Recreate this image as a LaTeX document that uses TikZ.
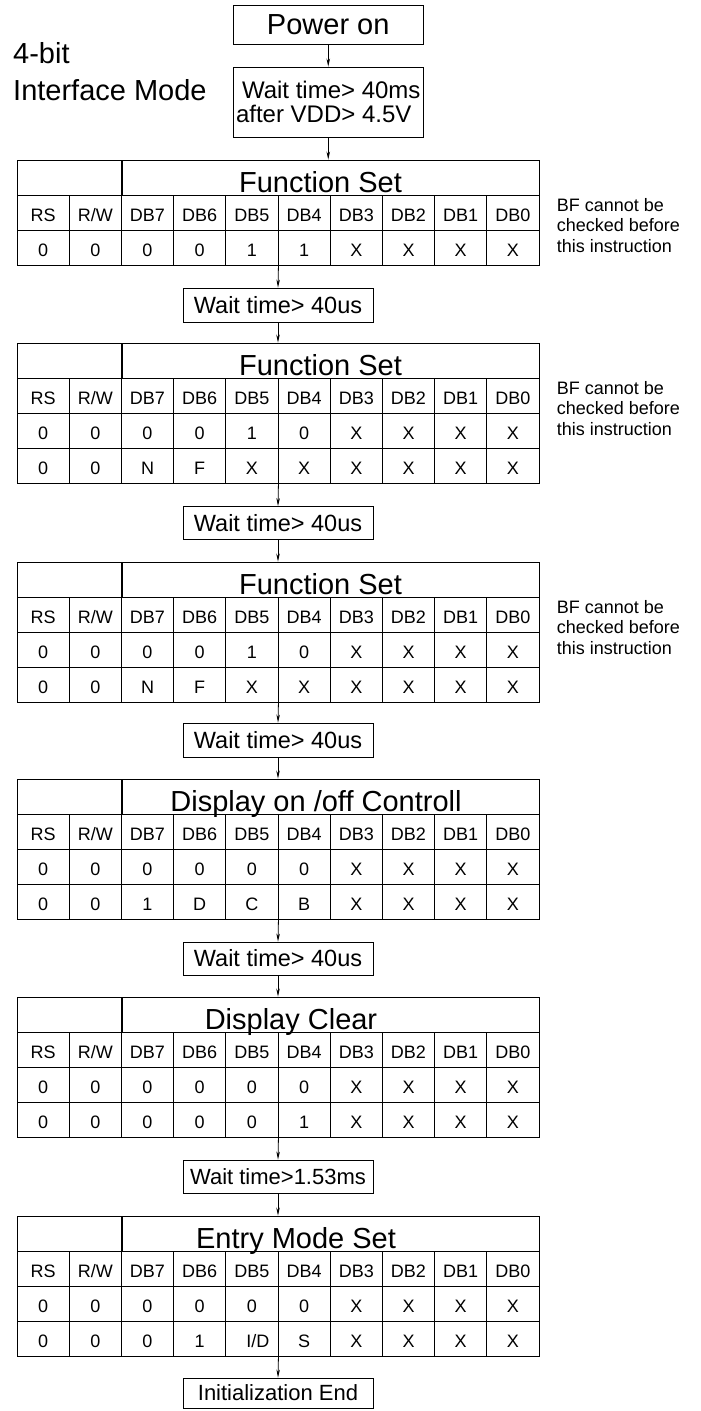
\documentclass[tikz,border=0pt]{standalone}
\usepackage{fontspec}
\setmainfont{Liberation Sans}
\usetikzlibrary{arrows.meta}
\tikzset{
  cellbox/.style={draw, line width=0.9pt, minimum width=52.2pt, minimum height=35pt, inner sep=0pt, text height=18pt, text depth=0pt, font=\fontsize{18}{20}\selectfont},
  titletext/.style={anchor=base, inner sep=0pt, font=\fontsize{29}{30}\selectfont},
  waitbox/.style={draw, line width=0.9pt, minimum width=190pt, minimum height=34pt, inner sep=0pt, font=\fontsize{23.5}{24}\selectfont},
  arr/.style={line width=0.8pt, -{Stealth[length=8pt,width=3.5pt]}},
  notetext/.style={align=left, anchor=base west, inner sep=0pt, font=\fontsize{18}{20.5}\selectfont},
  sidetext/.style={anchor=base west, inner sep=0pt, font=\fontsize{29}{30}\selectfont},
}
% #1 name, #2 top y, #3 title, #4 title centre x
\newcommand{\tabhead}[4]{%
  \node[cellbox, minimum width=104.4pt] (#1-blank) at (69.2, #2+17.5) {};
  \node[cellbox, minimum width=417.6pt] (#1-title) at (330.8, #2+17.5) {};
  \node[titletext] (#1-ttext) at (#4, #2+32) {#3};
  \foreach \lab [count=\i from 0] in {RS,R/W,DB7,DB6,DB5,DB4,DB3,DB2,DB1,DB0}
    \node[cellbox] (#1-h\i) at (43.1+52.2*\i, #2+52.5) {\lab};
}
% #1 name, #2 row index, #3 table top y, #4 list of cells
\newcommand{\tabrow}[4]{%
  \foreach \lab [count=\i from 0] in {#4}
    \node[cellbox] (#1-r#2c\i) at (43.1+52.2*\i, #3+52.5+35*#2) {\lab};
}
% base anchor of a multi-line node is the last line: 51 + 2*20.5
\newcommand{\bfnote}[2]{%
  \node[notetext] (#1) at (556.7, #2+92) {BF cannot be\\checked before\\this instruction};
}
\begin{document}
\begin{tikzpicture}[x=1pt, y=-1pt]
  \path[use as bounding box, fill=white] (0,0) rectangle (701,1411);

  \node[sidetext] (mode1) at (13,63) {4-bit};
  \node[sidetext] (mode2) at (13,100) {Interface Mode};

  \node[waitbox, minimum width=189.5pt, minimum height=39pt, font=\fontsize{29}{30}\selectfont] (pwr) at (328.25,24.5) {Power on};
  \node[waitbox, minimum width=189.5pt, minimum height=70pt, align=left, font=\fontsize{24}{24}\selectfont] (w1) at (328.25,102) {\hspace*{6pt}Wait time> 40ms\\after VDD> 4.5V};

  % table 1
  \tabhead{t1}{160}{Function Set}{320.5}
  \tabrow{t1}{1}{160}{0,0,0,0,1,1,X,X,X,X}
  \bfnote{n1}{160}

  \node[waitbox] (w2) at (278,305) {Wait time> 40us};

  % table 2
  \tabhead{t2}{343}{Function Set}{320.5}
  \tabrow{t2}{1}{343}{0,0,0,0,1,0,X,X,X,X}
  \tabrow{t2}{2}{343}{0,0,N,F,X,X,X,X,X,X}
  \bfnote{n2}{343}

  \node[waitbox, minimum height=33pt] (w3) at (278,523) {Wait time> 40us};

  % table 3
  \tabhead{t3}{562}{Function Set}{320.5}
  \tabrow{t3}{1}{562}{0,0,0,0,1,0,X,X,X,X}
  \tabrow{t3}{2}{562}{0,0,N,F,X,X,X,X,X,X}
  \bfnote{n3}{562}

  \node[waitbox] (w4) at (278,740) {Wait time> 40us};

  % table 4
  \tabhead{t4}{779}{Display on /off Controll}{316}
  \tabrow{t4}{1}{779}{0,0,0,0,0,0,X,X,X,X}
  \tabrow{t4}{2}{779}{0,0,1,D,C,B,X,X,X,X}

  \node[waitbox, minimum height=33pt] (w5) at (278,958.5) {Wait time> 40us};

  % table 5
  \tabhead{t5}{997}{Display Clear}{291}
  \tabrow{t5}{1}{997}{0,0,0,0,0,0,X,X,X,X}
  \tabrow{t5}{2}{997}{0,0,0,0,0,1,X,X,X,X}

  \node[waitbox, minimum height=33pt, font=\fontsize{22}{24}\selectfont] (w6) at (278,1176.5) {Wait time>1.53ms};

  % table 6
  \tabhead{t6}{1216}{Entry Mode Set}{296}
  \tabrow{t6}{1}{1216}{0,0,0,0,0,0,X,X,X,X}
  \tabrow{t6}{2}{1216}{0,0,0,1,{\hspace*{12pt}I/D},S,X,X,X,X}

  \node[waitbox, minimum height=30pt, font=\fontsize{22}{24}\selectfont] (initend) at (278,1393) {Initialization End};

  % connectors
  \draw[arr] (pwr.south) -- (w1.north);
  \draw[arr] (w1.south) -- (w1.south |- t1-title.north);
  \draw[arr] (t1-r1c4.south east) -- (w2.north);
  \draw[arr] (w2.south) -- (w2.south |- t2-title.north);
  \draw[arr] (t2-r2c4.south east) -- (w3.north);
  \draw[arr] (w3.south) -- (w3.south |- t3-title.north);
  \draw[arr] (t3-r2c4.south east) -- (w4.north);
  \draw[arr] (w4.south) -- (w4.south |- t4-title.north);
  \draw[arr] (t4-r2c4.south east) -- (w5.north);
  \draw[arr] (w5.south) -- (w5.south |- t5-title.north);
  \draw[arr] (t5-r2c4.south east) -- (w6.north);
  \draw[arr] (w6.south) -- (w6.south |- t6-title.north);
  \draw[arr] (t6-r2c4.south east) -- (initend.north);
\end{tikzpicture}
\end{document}
